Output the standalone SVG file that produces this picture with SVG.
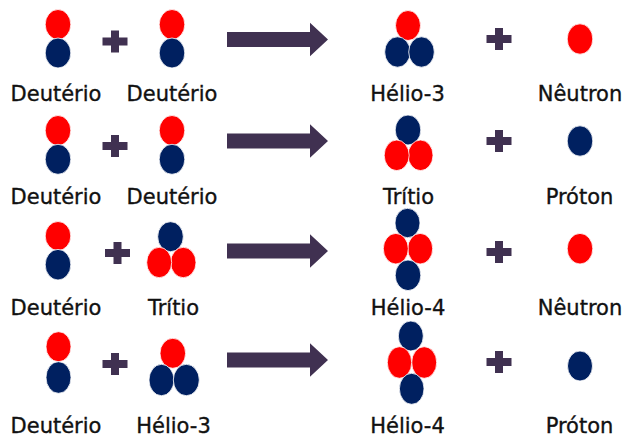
<svg xmlns="http://www.w3.org/2000/svg" xmlns:xlink="http://www.w3.org/1999/xlink" width="625" height="440" viewBox="0 0 625 440">
  <style>
    .n { fill: #FF0000; stroke: #ffffff; stroke-width: 0.8; }
    .p { fill: #002060; stroke: #ffffff; stroke-width: 0.8; }
    .lbl { font-family: "DejaVu Sans", "Liberation Sans", sans-serif; font-size: 21px; fill: #111111; stroke: #111111; stroke-width: 0.35; text-anchor: middle; }
    .op { fill: #403151; }
  </style>
  <defs>
    <!-- plus sign, centred on 0,0 -->
    <path id="plus" d="M-4,-11 H4 V-4 H12.5 V4 H4 V11 H-4 V4 H-12.5 V-4 H-4 Z"/>
    <!-- reaction arrow, centred vertically on 0 -->
    <path id="arrow" d="M227,-7.5 H310 V-16.8 L328,0 L310,16.8 V7.5 H227 Z"/>
  </defs>

  <rect width="625" height="440" fill="#ffffff"/>

  <!-- plus signs and reaction arrows -->
  <g id="connectors" class="op">
    <use xlink:href="#plus" x="115" y="41.5"/>
    <use xlink:href="#plus" x="499" y="39"/>
    <use xlink:href="#arrow" y="39.5"/>

    <use xlink:href="#plus" x="115" y="146"/>
    <use xlink:href="#plus" x="499" y="141"/>
    <use xlink:href="#arrow" y="141"/>

    <use xlink:href="#plus" x="117.5" y="253"/>
    <use xlink:href="#plus" x="499" y="252"/>
    <use xlink:href="#arrow" y="251"/>

    <use xlink:href="#plus" x="115" y="364"/>
    <use xlink:href="#plus" x="499" y="362"/>
    <use xlink:href="#arrow" y="360"/>
  </g>

  <!-- row 1: D + D -> He-3 + n -->
  <g id="r1-deuterio-a">
    <ellipse class="n" cx="58" cy="24.5" rx="12.8" ry="15"/>
    <ellipse class="p" cx="58" cy="53" rx="12.8" ry="15"/>
    <text class="lbl" x="56" y="101">Deutério</text>
  </g>
  <g id="r1-deuterio-b">
    <ellipse class="n" cx="172" cy="24.5" rx="12.8" ry="15"/>
    <ellipse class="p" cx="172" cy="53" rx="12.8" ry="15"/>
    <text class="lbl" x="172" y="101">Deutério</text>
  </g>
  <g id="r1-helio3">
    <ellipse class="n" cx="408" cy="25.5" rx="12.5" ry="15"/>
    <ellipse class="p" cx="397.5" cy="52" rx="12.8" ry="15.2"/>
    <ellipse class="p" cx="421.5" cy="52" rx="12.8" ry="15.2"/>
    <text class="lbl" x="407.5" y="101">Hélio-3</text>
  </g>
  <g id="r1-neutron">
    <ellipse class="n" cx="580" cy="39" rx="12.8" ry="15.2"/>
    <text class="lbl" x="580" y="101">Nêutron</text>
  </g>

  <!-- row 2: D + D -> T + p -->
  <g id="r2-deuterio-a">
    <ellipse class="n" cx="58" cy="130.5" rx="12.8" ry="15"/>
    <ellipse class="p" cx="58" cy="159.3" rx="12.8" ry="15"/>
    <text class="lbl" x="56" y="204">Deutério</text>
  </g>
  <g id="r2-deuterio-b">
    <ellipse class="n" cx="172" cy="130.5" rx="12.8" ry="15"/>
    <ellipse class="p" cx="172" cy="159.3" rx="12.8" ry="15"/>
    <text class="lbl" x="172" y="204">Deutério</text>
  </g>
  <g id="r2-tritio">
    <ellipse class="p" cx="408" cy="130" rx="12.8" ry="15"/>
    <ellipse class="n" cx="420.5" cy="155.3" rx="12.5" ry="15.3"/>
    <ellipse class="n" cx="396.7" cy="155.3" rx="12.5" ry="15.3"/>
    <text class="lbl" x="408.5" y="204">Trítio</text>
  </g>
  <g id="r2-proton">
    <ellipse class="p" cx="580" cy="141" rx="12.8" ry="15.2"/>
    <text class="lbl" x="579.5" y="204">Próton</text>
  </g>

  <!-- row 3: D + T -> He-4 + n -->
  <g id="r3-deuterio">
    <ellipse class="n" cx="58" cy="236" rx="12.8" ry="14.5"/>
    <ellipse class="p" cx="58" cy="264.7" rx="12.8" ry="15.3"/>
    <text class="lbl" x="56" y="315">Deutério</text>
  </g>
  <g id="r3-tritio">
    <ellipse class="p" cx="170.5" cy="236.7" rx="12.8" ry="15"/>
    <ellipse class="n" cx="183.3" cy="262.5" rx="12.7" ry="15.2"/>
    <ellipse class="n" cx="159.2" cy="262.5" rx="12.5" ry="15.2"/>
    <text class="lbl" x="173.5" y="315">Trítio</text>
  </g>
  <g id="r3-helio4">
    <ellipse class="p" cx="407.5" cy="223" rx="12.5" ry="14.7"/>
    <ellipse class="n" cx="420.2" cy="248.7" rx="12.5" ry="15.3"/>
    <ellipse class="n" cx="395.8" cy="248.7" rx="12.5" ry="15.3"/>
    <ellipse class="p" cx="408" cy="275.3" rx="12.8" ry="15.3"/>
    <text class="lbl" x="408" y="315">Hélio-4</text>
  </g>
  <g id="r3-neutron">
    <ellipse class="n" cx="580" cy="248.7" rx="12.8" ry="15.3"/>
    <text class="lbl" x="580" y="315">Nêutron</text>
  </g>

  <!-- row 4: D + He-3 -> He-4 + p -->
  <g id="r4-deuterio">
    <ellipse class="n" cx="58.5" cy="346.7" rx="12.5" ry="15"/>
    <ellipse class="p" cx="58.5" cy="377.5" rx="12.5" ry="15.8"/>
    <text class="lbl" x="56" y="433">Deutério</text>
  </g>
  <g id="r4-helio3">
    <ellipse class="n" cx="172.8" cy="353.3" rx="12.8" ry="15"/>
    <ellipse class="p" cx="161.5" cy="380" rx="12.5" ry="15.7"/>
    <ellipse class="p" cx="186.3" cy="380" rx="13" ry="15.7"/>
    <text class="lbl" x="173.5" y="433">Hélio-3</text>
  </g>
  <g id="r4-helio4">
    <ellipse class="p" cx="410.8" cy="336" rx="12.5" ry="15"/>
    <ellipse class="n" cx="424.2" cy="362.5" rx="12.5" ry="15.8"/>
    <ellipse class="n" cx="399.5" cy="362.5" rx="12.2" ry="15.8"/>
    <ellipse class="p" cx="411.7" cy="388.8" rx="12.3" ry="15.5"/>
    <text class="lbl" x="407.5" y="433">Hélio-4</text>
  </g>
  <g id="r4-proton">
    <ellipse class="p" cx="580" cy="366" rx="12.5" ry="15"/>
    <text class="lbl" x="579.5" y="433">Próton</text>
  </g>
</svg>
